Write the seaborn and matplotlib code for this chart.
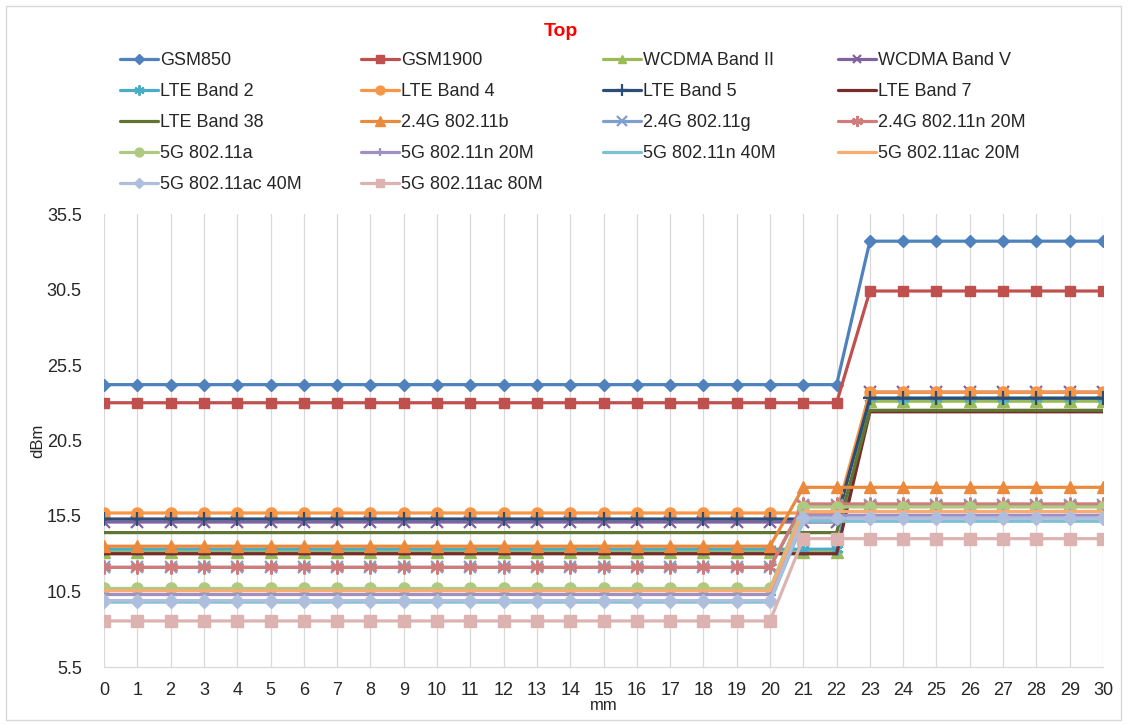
import matplotlib
matplotlib.use("Agg")
import matplotlib.pyplot as plt
from matplotlib.patches import Rectangle
import pandas as pd
import seaborn as sns

# style: plain white, Arial-like font
sns.set_theme(style="white")
plt.rcParams['font.family'] = ['Liberation Sans', 'DejaVu Sans']

# ---- data (dBm at each mm position) ----
mm = list(range(31))

series_names = [
    "GSM850", "GSM1900", "WCDMA Band II", "WCDMA Band V",
    "LTE Band 2", "LTE Band 4", "LTE Band 5", "LTE Band 7",
    "LTE Band 38", "2.4G 802.11b", "2.4G 802.11g", "2.4G 802.11n 20M",
    "5G 802.11a", "5G 802.11n 20M", "5G 802.11n 40M", "5G 802.11ac 20M",
    "5G 802.11ac 40M", "5G 802.11ac 80M",
]

gsm850 = [24.2] * 23 + [33.7] * 8
gsm1900 = [23.0] * 23 + [30.4] * 8
wcdma_b2 = [13.1] * 23 + [23.1] * 8
wcdma_b5 = [15.1] * 23 + [23.7] * 8
lte_b2 = [13.3] * 23 + [23.3] * 8
lte_b4 = [15.7] * 23 + [23.7] * 8
lte_b5 = [15.3] * 23 + [23.3] * 8
lte_b7 = [13.0] * 23 + [22.4] * 8
lte_b38 = [14.4] * 23 + [22.5] * 8
wifi24_b = [13.5] * 21 + [17.4] * 10
wifi24_g = [12.1] * 21 + [16.2] * 10
wifi24_n20 = [12.1] * 21 + [16.3] * 10
wifi5_a = [10.7] * 21 + [16.1] * 10
wifi5_n20 = [10.3] * 21 + [15.55] * 10
wifi5_n40 = [9.8] * 21 + [15.15] * 10
wifi5_ac20 = [10.55] * 21 + [15.8] * 10
wifi5_ac40 = [9.9] * 21 + [15.35] * 10
wifi5_ac80 = [8.55] * 21 + [14.0] * 10

values = [gsm850, gsm1900, wcdma_b2, wcdma_b5, lte_b2, lte_b4, lte_b5, lte_b7,
          lte_b38, wifi24_b, wifi24_g, wifi24_n20, wifi5_a, wifi5_n20,
          wifi5_n40, wifi5_ac20, wifi5_ac40, wifi5_ac80]

y_ticks = [5.5, 10.5, 15.5, 20.5, 25.5, 30.5, 35.5]

# ---- per-series look (Excel-ish) ----
colors = ["#4F81BD", "#C0504D", "#9BBB59", "#8064A2", "#4BACC6", "#F79646",
          "#2C4D75", "#772C2A", "#5F7530", "#EB8A3C", "#7F9FCF", "#D07C7A",
          "#AFCA80", "#A08FC2", "#7DBFD3", "#FAAB72", "#AEBFDD", "#DDB3B2"]
asterisk = (6, 2, 0)
markers = ["D", "s", "^", "x", asterisk, "o", "+", None,
           None, "^", "x", asterisk, "o", "+", None, None, "D", "s"]
msizes = [6.5, 7.5, 8, 8, 9, 8, 10, 0, 0, 9, 9, 10, 8, 8, 0, 0, 7, 8]

df = pd.DataFrame({
    "mm": mm * len(series_names),
    "dBm": [v for vals in values for v in vals],
    "series": [name for name in series_names for _ in mm],
})

fig = plt.figure(figsize=(11.28, 7.25), dpi=100)
ax = fig.add_axes([104 / 1128, 1 - 667 / 725, 999 / 1128, 453 / 725])

for name, color, mk, ms in zip(series_names, colors, markers, msizes):
    kw = dict(linewidth=2.3)
    if mk is not None:
        filled = mk in ("D", "s", "^", "o")
        kw.update(marker=mk, markersize=ms, markeredgecolor=color,
                  markerfacecolor=color if filled else "none",
                  markeredgewidth=1.0 if filled else 1.6)
    sns.lineplot(data=df[df["series"] == name], x="mm", y="dBm", color=color,
                 label=name, ax=ax, **kw)

ax.set_xlim(0, 30)
ax.set_ylim(5.5, 35.5)
ax.set_xticks(mm)
ax.set_yticks(y_ticks)
ax.set_yticklabels([f"{t:.1f}" for t in y_ticks])
ax.tick_params(axis="both", length=0, labelsize=13, colors="#262626")
ax.tick_params(axis="y", pad=16)
ax.tick_params(axis="x", pad=11)
ax.grid(axis="x", color="#D9D9D9", linewidth=0.9)
ax.grid(axis="y", visible=False)
for side in ("left", "right", "top"):
    ax.spines[side].set_visible(False)
ax.spines["bottom"].set_color("#D9D9D9")
ax.spines["bottom"].set_linewidth(0.9)
ax.set_xlabel("mm", fontsize=12, color="#262626", labelpad=-1)
ax.set_ylabel("dBm", fontsize=12, color="#262626", labelpad=1)

# legend: 4 equal columns, filled row by row like Excel
handles, labels = ax.get_legend_handles_labels()
ax.get_legend().remove()
col_x = [120, 361, 603, 838]
for c, x in enumerate(col_x):
    fig.legend(handles[c::4], labels[c::4], loc="upper left",
               bbox_to_anchor=(x / 1128, 1 - 52 / 725), frameon=False,
               borderpad=0, borderaxespad=0, handlelength=2.1,
               handletextpad=0.1, labelspacing=0.78, fontsize=13,
               markerscale=0.8, labelcolor="#262626")

fig.text(561 / 1128, 1 - 31 / 725, "Top", color="#FF0000", fontsize=14,
         fontweight="bold", ha="center", va="center")

fig.patches.append(Rectangle((6 / 1128, 5 / 725), 1115 / 1128, 714 / 725,
                             transform=fig.transFigure, fill=False,
                             edgecolor="#D9D9D9", linewidth=1.0))

fig.savefig("out.png", dpi=100, facecolor="white")
